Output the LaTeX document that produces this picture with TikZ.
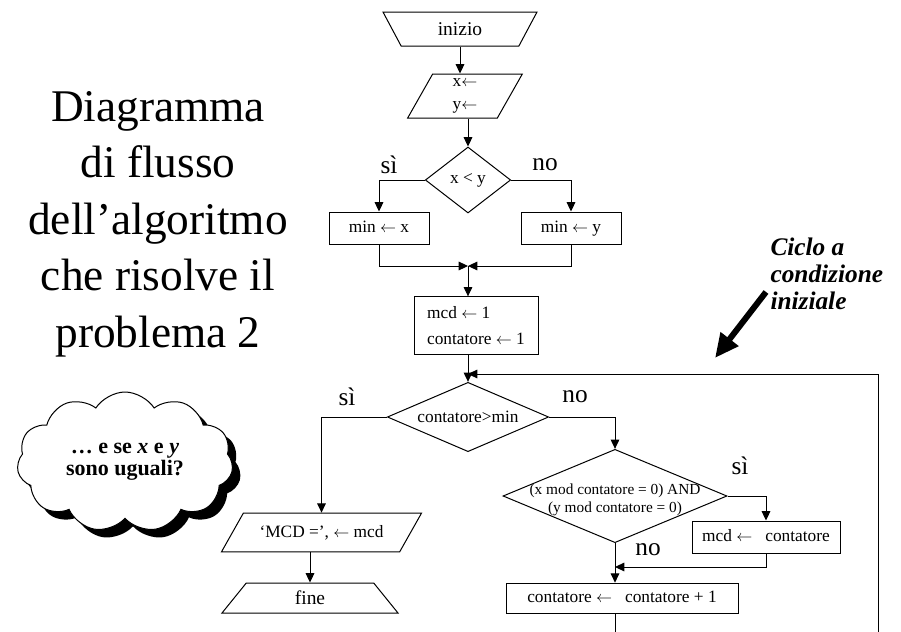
\documentclass[tikz,border=0pt]{standalone}
\usepackage{fontspec}
\setmainfont{Liberation Serif}
\usetikzlibrary{arrows.meta,shapes.geometric,shapes.symbols,shadows}

\begin{document}
\begin{tikzpicture}[x=0.75pt, y=-0.75pt, line width=0.75pt,
  every node/.style={font=\fontsize{13}{17}\selectfont},
  arr/.style={-{Triangle[length=7pt,width=6.5pt]}},
  box/.style={draw, rectangle, minimum width=#1, minimum height=24pt, inner sep=1pt, text height=9pt, text depth=2.5pt},
  term/.style={draw, trapezium, trapezium stretches body, inner sep=1pt, font=\fontsize{14.6}{17}\selectfont},
  io/.style={draw, trapezium, trapezium stretches body, inner sep=1pt},
  cond/.style={draw, diamond, inner sep=0pt},
  lbl/.style={font=\fontsize{19}{22}\selectfont, inner sep=0pt}]

  \path[use as bounding box, fill=white] (0,0) rectangle (901,632);
  \clip (0,0) rectangle (901,632);

  % titolo e commenti
  \node[align=center, font=\fontsize{34}{42.4}\selectfont] (titolo) at (158,224) {Diagramma\\di flusso\\dell'algoritmo\\che risolve il\\problema 2};
  \node[cloud, draw, fill=white, cloud puffs=11, cloud puff arc=115, aspect=1.6, minimum width=162pt, minimum height=105pt, inner sep=0pt, align=center, font=\bfseries\fontsize{16.5}{16.5}\selectfont, drop shadow={shadow xshift=6pt, shadow yshift=-6pt, fill=black, opacity=1}] (nuvola) at (125,462) {\ldots{} e se \textit{x} e \textit{y}\\sono uguali?};
  \node[anchor=west, align=left, inner sep=0pt, font=\bfseries\itshape\fontsize{19}{20}\selectfont] (ciclo) at (770,274) {Ciclo a\\condizione\\iniziale};
  \coordinate (freccia0) at (766,292);
  \coordinate (freccia1) at (715,358);
  \draw[line width=4.5pt, -{Triangle[length=18pt,width=16pt]}] (freccia0) -- (freccia1);

  % blocchi
  \node[term, shape border rotate=180, trapezium left angle=41, trapezium right angle=41, minimum width=115.5pt, minimum height=25.5pt] (inizio) at (460,29) {inizio};
  \node[io, trapezium left angle=56, trapezium right angle=124, minimum width=86pt, minimum height=33pt, align=center] (leggi) at (465,96) {x$\leftarrow$\\y$\leftarrow$};
  \node[cond, shape aspect=1.29, minimum width=64pt, minimum height=49.5pt] (test1) at (468,180) {x < y};
  \node[box=75pt] (minx) at (379,228) {min $\leftarrow$ x};
  \node[box=75pt] (miny) at (571,228) {min $\leftarrow$ y};
  \coordinate (unione) at (468,266);
  \node[draw, minimum width=93pt, minimum height=43pt, align=left, inner sep=1pt, font=\fontsize{13}{19}\selectfont] (init) at (476,325.5) {mcd $\leftarrow$ 1\\contatore $\leftarrow$ 1};
  \coordinate (ritorno) at (468,374);
  \node[cond, shape aspect=2.33, minimum width=121pt, minimum height=52pt] (test2) at (468,417) {contatore>min};
  \node[cond, minimum width=168pt, minimum height=70pt, label={[font=\fontsize{11.5}{13.5}\selectfont, align=center, yshift=-3pt]center:{(x mod contatore = 0) AND\\(y mod contatore = 0)}}] (test3) at (615,496) {};
  \node[box=111pt] (aggmcd) at (766,537) {mcd $\leftarrow$\enspace\ contatore};
  \coordinate (unione2) at (615,567);
  \node[box=174pt, minimum height=23pt] (incr) at (622,598.5) {contatore $\leftarrow$\enspace\ contatore + 1};
  \node[io, trapezium left angle=38.5, trapezium right angle=141.5, minimum width=150pt, minimum height=29pt] (stampa) at (321.5,532.5) {`MCD =', $\leftarrow$ mcd};
  \node[term, trapezium left angle=34.3, trapezium right angle=34.3, minimum width=132pt, minimum height=22.5pt] (fine) at (310,598) {fine};

  % etichette
  \node[lbl] (si1) at (389,165) {sì};
  \node[lbl] (no1) at (545,165) {no};
  \node[lbl] (si2) at (347,397) {sì};
  \node[lbl] (no2) at (575,397) {no};
  \node[lbl] (si3) at (740,466) {sì};
  \node[lbl] (no3) at (648,550) {no};

  % collegamenti
  \draw[arr] (inizio.south) -- (inizio.south |- leggi.north);
  \draw[arr] (test1.north |- leggi.south) -- (test1.north);
  \draw[arr] (test1.west) -| (minx.north);
  \draw[arr] (test1.east) -| (miny.north);
  \draw[arr] (minx.south) |- (unione);
  \draw[arr] (miny.south) |- (unione);
  \draw[arr] (unione) -- (unione |- init.north);
  \draw[arr] (test2.north |- init.south) -- (test2.north);
  \draw[arr] (test2.west) -| (stampa.north);
  \draw[arr] (fine.north |- stampa.south) -- (fine.north);
  \draw[arr] (test2.east) -| (test3.north);
  \draw[arr] (test3.east) -| (aggmcd.north);
  \draw[arr] (test3.south) -- (test3.south |- incr.north);
  \draw[arr] (aggmcd.south) |- (unione2);
  \coordinate (giu1) at (615,650);
  \coordinate (giu2) at (878,650);
  \draw[arr] (test3.south |- incr.south) -- (giu1) -- (giu2) |- (ritorno);
\end{tikzpicture}
\end{document}
